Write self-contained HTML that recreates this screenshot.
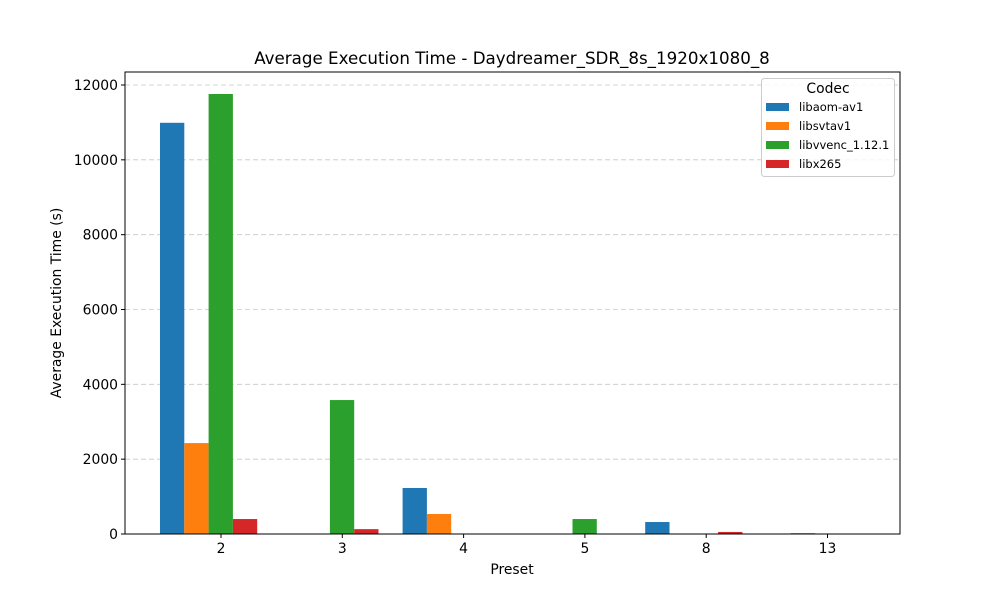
<!DOCTYPE html>
<html><head><meta charset="utf-8"><style>
body{margin:0;background:#fff;}
svg{display:block;font-family:"DejaVu Sans","Liberation Sans",sans-serif;}
</style></head><body>
<svg id="chart" width="1000" height="600"></svg>
<script>
const presets=["2","3","4","5","8","13"];
const codecs=["libaom-av1","libsvtav1","libvvenc_1.12.1","libx265"];
const colors=["#1f77b4","#ff7f0e","#2ca02c","#d62728"];
const aomVals=[10990,0,1230,0,320,0];
const svtVals=[2430,0,535,0,0,25];
const vvencVals=[11760,3580,0,400,0,0];
const x265Vals=[400,130,0,0,55,0];
const yTicks=[0,2000,4000,6000,8000,10000,12000];
const series=[aomVals,svtVals,vvencVals,x265Vals];
const NS="http://www.w3.org/2000/svg";
const svg=document.getElementById('chart');
const L=125,R=900,T=72,B=534;
function y(v){return B-v*(449/12000);}
function xc(i){return 221+i*121.3;}
const bw=24.3;
function mk(tag,attrs,parent){const e=document.createElementNS(NS,tag);for(const k in attrs)e.setAttribute(k,attrs[k]);(parent||svg).appendChild(e);return e;}
function txt(s,attrs){const e=mk('text',attrs);e.textContent=s;return e;}
yTicks.forEach(v=>{
 const g=mk('line',{x1:L,x2:R,y1:y(v),y2:y(v),stroke:'#b0b0b0','stroke-dasharray':'5,3','stroke-width':0.8,opacity:0.7});
 
 
 const t=mk('line',{x1:L-4,x2:L,y1:y(v),y2:y(v),stroke:'#000'});
 
 
 const l=txt(String(v),{x:L-7,y:y(v)+5,'text-anchor':'end','font-size':13.9});
 
 
});
series.forEach((vals,k)=>{
 vals.forEach((v,i)=>{
  if(v<=0)return;
  const r=mk('rect',{x:xc(i)-61+k*bw,y:y(v),width:bw,height:B-y(v),fill:colors[k]});
  
  
 });
});
presets.forEach((p,i)=>{
 const t=mk('line',{x1:xc(i),x2:xc(i),y1:B,y2:B+4,stroke:'#000'});
 
 
 const l=txt(p,{x:xc(i),y:B+19,'text-anchor':'middle','font-size':13.9});
 
 
});
const fr=mk('rect',{x:L,y:T,width:R-L,height:B-T,fill:'none',stroke:'#000','stroke-width':1});


const ti=txt('Average Execution Time - Daydreamer_SDR_8s_1920x1080_8',{x:512,y:64,'text-anchor':'middle','font-size':16.7});


const xt=txt('Preset',{x:512,y:574,'text-anchor':'middle','font-size':13.9});


const yt=txt('Average Execution Time (s)',{x:0,y:0,'text-anchor':'middle','font-size':13.9,transform:'translate(61,303) rotate(-90)'});


const lg=mk('rect',{x:761.5,y:78.5,width:133,height:98,rx:3,fill:'#fff',stroke:'#ccc','fill-opacity':0.8});


const lt=txt('Codec',{x:828,y:93,'text-anchor':'middle','font-size':13.9});


codecs.forEach((c,k)=>{
 const yy=107+k*19;
 const s=mk('rect',{x:766,y:yy-4,width:23,height:8,fill:colors[k]});
 
 
 const l=txt(c,{x:799,y:yy+4,'font-size':11.5});
 
 
});
</script>
</body></html>
